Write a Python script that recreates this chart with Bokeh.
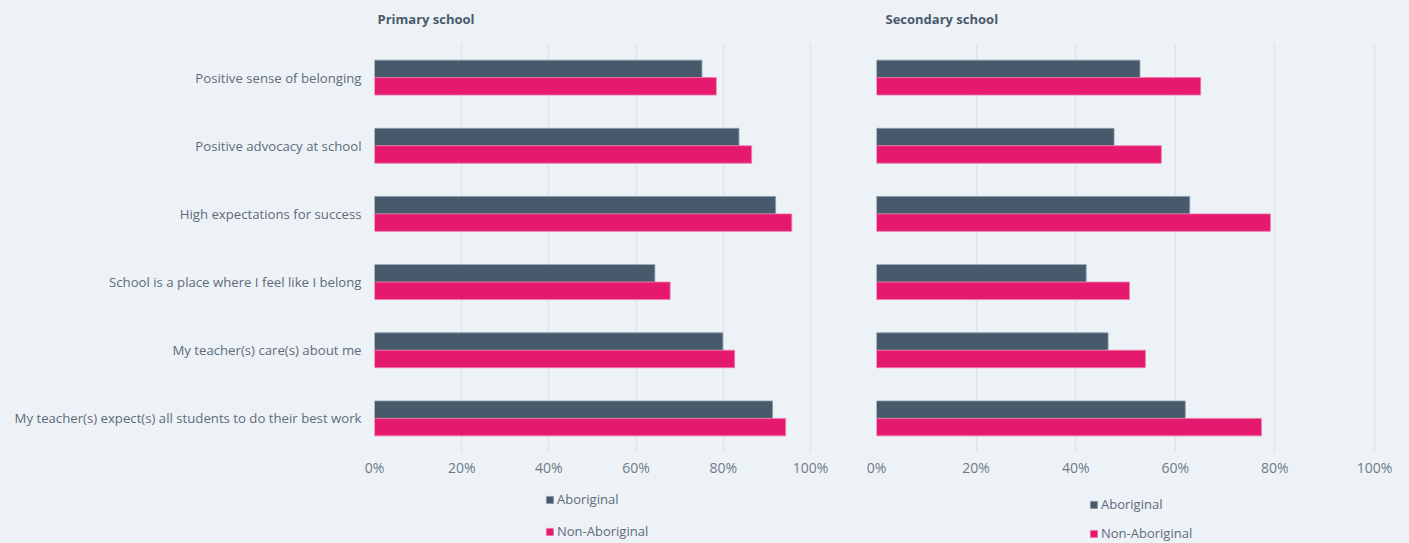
from bokeh.plotting import figure
from bokeh.models import (FactorRange, Range1d, FixedTicker, Legend, LegendItem,
                          ColumnDataSource, Label)
from bokeh.transform import dodge
from bokeh.layouts import row, column
from bokeh.embed import file_html
from bokeh.resources import INLINE

# ---- data ----
categories = [
    "Positive sense of belonging",
    "Positive advocacy at school",
    "High expectations for success",
    "School is a place where I feel like I belong",
    "My teacher(s) care(s) about me",
    "My teacher(s) expect(s) all students to do their best work",
]
primary_aboriginal = [75.1, 83.6, 92.0, 64.3, 79.9, 91.3]
primary_non_aboriginal = [78.4, 86.5, 95.7, 67.8, 82.6, 94.3]
secondary_aboriginal = [52.9, 47.7, 62.9, 42.1, 46.5, 62.0]
secondary_non_aboriginal = [65.1, 57.2, 79.1, 50.8, 54.0, 77.3]
series_names = ["Aboriginal", "Non-Aboriginal"]
panel_titles = ["Primary school", "Secondary school"]
tick_values = [0, 20, 40, 60, 80, 100]
tick_labels = ["0%", "20%", "40%", "60%", "80%", "100%"]

BG = "#EDF2F7"
DARK = "#465A6B"
PINK = "#E5196E"
DARK_EDGE = "#8C9BAA"
PINK_EDGE = "#F07AA8"
GRID = "#DEE4EA"
FONT = "Open Sans"
STRIP_H = 30
MAIN_H = 452
LEG_H = 543 - STRIP_H - MAIN_H


def blank_fig(width, height):
    f = figure(width=width, height=height, x_range=Range1d(0, width), y_range=Range1d(0, height),
               output_backend="svg", toolbar_location=None, tools="",
               x_axis_location=None, y_axis_location=None,
               min_border=0, min_border_left=0, min_border_right=0,
               min_border_top=0, min_border_bottom=0,
               background_fill_color=BG, border_fill_color=BG)
    f.outline_line_color = None
    f.xgrid.grid_line_color = None
    f.ygrid.grid_line_color = None
    return f


def make_title_fig(width, text, x):
    t = blank_fig(width, STRIP_H)
    t.add_layout(Label(x=x, y=STRIP_H - 18, text=text, text_align="left",
                       text_baseline="middle", text_font=FONT, text_font_size="13px",
                       text_font_style="bold", text_color="#4A5A6A"))
    return t


def make_panel(abor, non, width, left, right, frame_w, px100, show_y):
    src = ColumnDataSource(dict(cat=categories, a=abor, n=non))
    p = figure(
        width=width, height=MAIN_H,
        y_range=FactorRange(factors=list(reversed(categories))),
        x_range=Range1d(0, 100.0 * frame_w / px100),
        output_backend="svg", toolbar_location=None, tools="",
        min_border_left=left, min_border_right=right,
        min_border_top=43 - STRIP_H, min_border_bottom=STRIP_H + MAIN_H - 452,
        background_fill_color=BG, border_fill_color=BG,
    )
    p.outline_line_color = None

    p.hbar(y=dodge("cat", 0.128, range=p.y_range), right="a", left=0, height=0.256,
           source=src, fill_color=DARK, line_color=DARK_EDGE, line_width=0.8)
    p.hbar(y=dodge("cat", -0.128, range=p.y_range), right="n", left=0, height=0.256,
           source=src, fill_color=PINK, line_color=PINK_EDGE, line_width=0.8)

    p.xaxis.ticker = FixedTicker(ticks=tick_values)
    p.xaxis.major_label_overrides = {v: l for v, l in zip(tick_values, tick_labels)}
    p.xaxis.axis_line_color = None
    p.xaxis.major_tick_line_color = None
    p.xaxis.minor_tick_line_color = None
    p.xaxis.major_tick_out = 0
    p.xaxis.major_tick_in = 0
    p.xaxis.major_label_standoff = 5
    p.xaxis.major_label_text_font = FONT
    p.xaxis.major_label_text_font_size = "14px"
    p.xaxis.major_label_text_color = "#6F7B88"

    p.yaxis.axis_line_color = None
    p.yaxis.major_tick_line_color = None
    p.yaxis.minor_tick_line_color = None
    p.yaxis.major_tick_out = 0
    p.yaxis.major_tick_in = 0
    p.yaxis.major_label_standoff = 13
    p.yaxis.major_label_text_font = FONT
    p.yaxis.major_label_text_font_size = "13.2px"
    p.yaxis.major_label_text_color = "#5F6B7A"
    p.yaxis.visible = show_y

    p.ygrid.grid_line_color = None
    p.xgrid.grid_line_color = GRID
    p.xgrid.grid_line_width = 1.5
    return p


def make_legend_fig(width, x, y, spacing):
    lf = blank_fig(width, LEG_H)
    # legend-only renderers (zero-width, outside the visible range)
    key = ColumnDataSource(dict(y=[-100.0], right=[0.0]))
    ra = lf.hbar(y="y", right="right", left=0, height=1, source=key,
                 fill_color=DARK, line_color=DARK_EDGE, line_width=0.8)
    rn = lf.hbar(y="y", right="right", left=0, height=1, source=key,
                 fill_color=PINK, line_color=PINK_EDGE, line_width=0.8)
    legend = Legend(
        items=[LegendItem(label=series_names[0], renderers=[ra]),
               LegendItem(label=series_names[1], renderers=[rn])],
        location=(x, y), orientation="vertical",
        glyph_width=9, glyph_height=9, label_height=16, spacing=spacing,
        label_standoff=3, padding=0, margin=0,
        border_line_color=None, background_fill_alpha=0,
        label_text_font=FONT, label_text_font_size="13px", label_text_color="#5F6B7A",
    )
    lf.add_layout(legend, "center")
    return lf


t1 = make_title_fig(840, panel_titles[0], 377)
t2 = make_title_fig(560, panel_titles[1], 885 - 840)
p1 = make_panel(primary_aboriginal, primary_non_aboriginal, 840, 374, 28, 438, 436, True)
p2 = make_panel(secondary_aboriginal, secondary_non_aboriginal, 560, 36, 24, 500, 498, False)
l1 = make_legend_fig(840, 545, 3, 14)
l2 = make_legend_fig(560, 1089 - 840, 1, 11)

p = column(row(t1, t2), row(p1, p2), row(l1, l2))
html = file_html(p, INLINE)
html = html.replace("<body>", '<body style="background:%s">' % BG)
open("out.html", "w").write(html)
